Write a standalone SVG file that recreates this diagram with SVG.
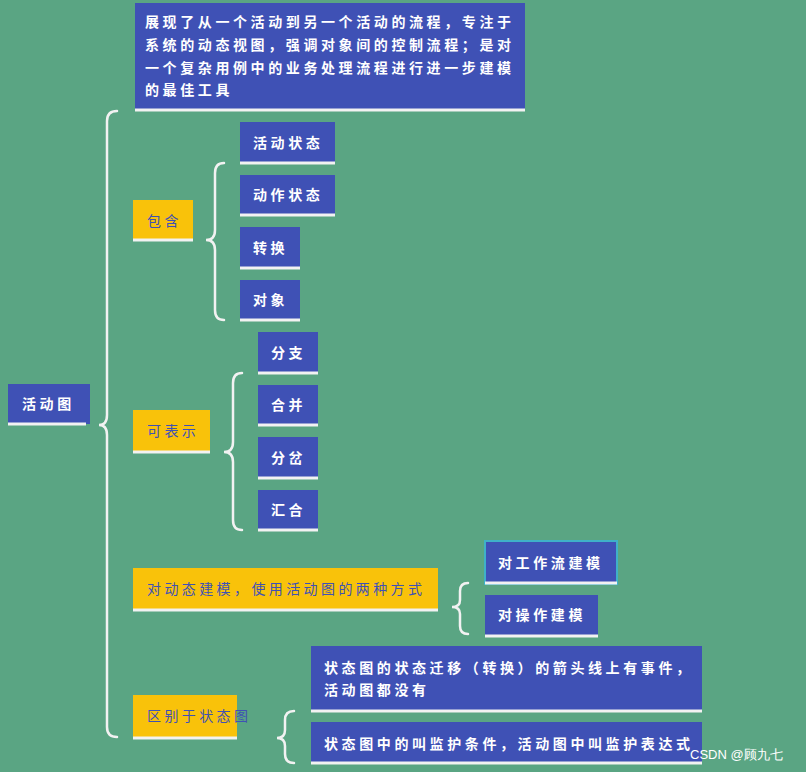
<svg xmlns="http://www.w3.org/2000/svg" width="806" height="772" viewBox="0 0 806 772">
<style>
.b{fill:#3f51b5}
.y{fill:#f9c20a}
.u{stroke:#f2f2f2;stroke-width:3}
.t{font-family:"Noto Sans CJK SC","Noto Sans",sans-serif;font-size:14px;font-weight:bold;fill:#fff;letter-spacing:3.6px}
.ty{font-family:"Noto Sans CJK SC","Noto Sans",sans-serif;font-size:14px;fill:#3f51b5;letter-spacing:3.4px}
.c{fill:none;stroke:#f2f2f2;stroke-width:2.5;stroke-linecap:round}
</style>
<rect width="806" height="772" fill="#5aa583"/>
<g id="connectors">
<path class="c" d="M117,111 Q107,111 107,121 L107,415 Q107,425 99,425 Q107,425 107,435 L107,727 Q107,737 117,737"/>
<path class="c" d="M224,163 Q215,163 215,173 L215,230 Q215,240 206,240 Q215,240 215,250 L215,310 Q215,320 224,320"/>
<path class="c" d="M242,373 Q233,373 233,383 L233,442 Q233,452 224,452 Q233,452 233,462 L233,520 Q233,530 242,530"/>
<path class="c" d="M468,583 Q460,583 460,591 L460,600 Q460,607 452,607 Q460,607 460,614 L460,626 Q460,634 468,634"/>
<path class="c" d="M294,711 Q285,711 285,720 L285,730 Q285,738 277,738 Q285,738 285,746 L285,754 Q285,763 294,763"/>
</g>
<g id="root"><rect class="b" x="8" y="384" width="82" height="40"/><line class="u" x1="8" y1="424" x2="86" y2="424"/><text class="t" x="22" y="409">活动图</text></g>
<g id="desc"><rect class="b" x="135" y="3" width="390" height="106"/><line class="u" x1="135" y1="110" x2="525" y2="110"/>
<text class="t" x="145" y="27">展现了从一个活动到另一个活动的流程，专注于</text>
<text class="t" x="145" y="50">系统的动态视图，强调对象间的控制流程；是对</text>
<text class="t" x="145" y="73">一个复杂用例中的业务处理流程进行进一步建模</text>
<text class="t" x="145" y="95">的最佳工具</text></g>
<g id="baohan"><rect class="y" x="133" y="200" width="60" height="39"/><line class="u" x1="133" y1="240" x2="193" y2="240"/><text class="ty" x="147" y="226">包含</text></g>
<g id="n1"><rect class="b" x="240" y="122" width="95" height="40"/><line class="u" x1="240" y1="163" x2="335" y2="163"/><text class="t" x="253" y="148">活动状态</text></g>
<g id="n2"><rect class="b" x="240" y="175" width="95" height="39"/><line class="u" x1="240" y1="215" x2="335" y2="215"/><text class="t" x="253" y="200">动作状态</text></g>
<g id="n3"><rect class="b" x="240" y="227" width="60" height="40"/><line class="u" x1="240" y1="268" x2="300" y2="268"/><text class="t" x="253" y="253">转换</text></g>
<g id="n4"><rect class="b" x="240" y="280" width="60" height="39"/><line class="u" x1="240" y1="320" x2="300" y2="320"/><text class="t" x="253" y="305">对象</text></g>
<g id="kebiaoshi"><rect class="y" x="133" y="410" width="77" height="41"/><line class="u" x1="133" y1="452" x2="210" y2="452"/><text class="ty" x="147" y="436">可表示</text></g>
<g id="n5"><rect class="b" x="258" y="332" width="60" height="40"/><line class="u" x1="258" y1="373" x2="318" y2="373"/><text class="t" x="271" y="358">分支</text></g>
<g id="n6"><rect class="b" x="258" y="385" width="60" height="39"/><line class="u" x1="258" y1="425" x2="318" y2="425"/><text class="t" x="271" y="410">合并</text></g>
<g id="n7"><rect class="b" x="258" y="437" width="60" height="40"/><line class="u" x1="258" y1="478" x2="318" y2="478"/><text class="t" x="271" y="463">分岔</text></g>
<g id="n8"><rect class="b" x="258" y="490" width="60" height="39"/><line class="u" x1="258" y1="530" x2="318" y2="530"/><text class="t" x="271" y="515">汇合</text></g>
<g id="liangzhong"><rect class="y" x="133" y="568" width="305" height="41"/><line class="u" x1="133" y1="610" x2="438" y2="610"/><text class="ty" x="147" y="594">对动态建模，使用活动图的两种方式</text></g>
<g id="n9"><rect class="b" x="485" y="541" width="132" height="43" stroke="#3fb0c8" stroke-width="2"/><line class="u" x1="485" y1="583" x2="617" y2="583"/><text class="t" x="498" y="568">对工作流建模</text></g>
<g id="n10"><rect class="b" x="485" y="595" width="113" height="41"/><line class="u" x1="485" y1="636" x2="598" y2="636"/><text class="t" x="498" y="620">对操作建模</text></g>
<g id="qubie"><rect class="y" x="133" y="695" width="104" height="42"/><line class="u" x1="133" y1="738" x2="237" y2="738"/><text class="ty" x="147" y="721">区别于状态图</text></g>
<g id="n11"><rect class="b" x="311" y="646" width="391" height="65"/><line class="u" x1="311" y1="711" x2="702" y2="711"/>
<text class="t" x="324" y="673">状态图的状态迁移（转换）的箭头线上有事件，</text>
<text class="t" x="324" y="695">活动图都没有</text></g>
<g id="n12"><rect class="b" x="311" y="722" width="391" height="40"/><line class="u" x1="311" y1="763" x2="702" y2="763"/><text class="t" x="324" y="749">状态图中的叫监护条件，活动图中叫监护表达式</text></g>
<text x="690" y="759" font-family="Liberation Sans,sans-serif" font-size="13" fill="#fff">CSDN @顾九七</text>
</svg>
